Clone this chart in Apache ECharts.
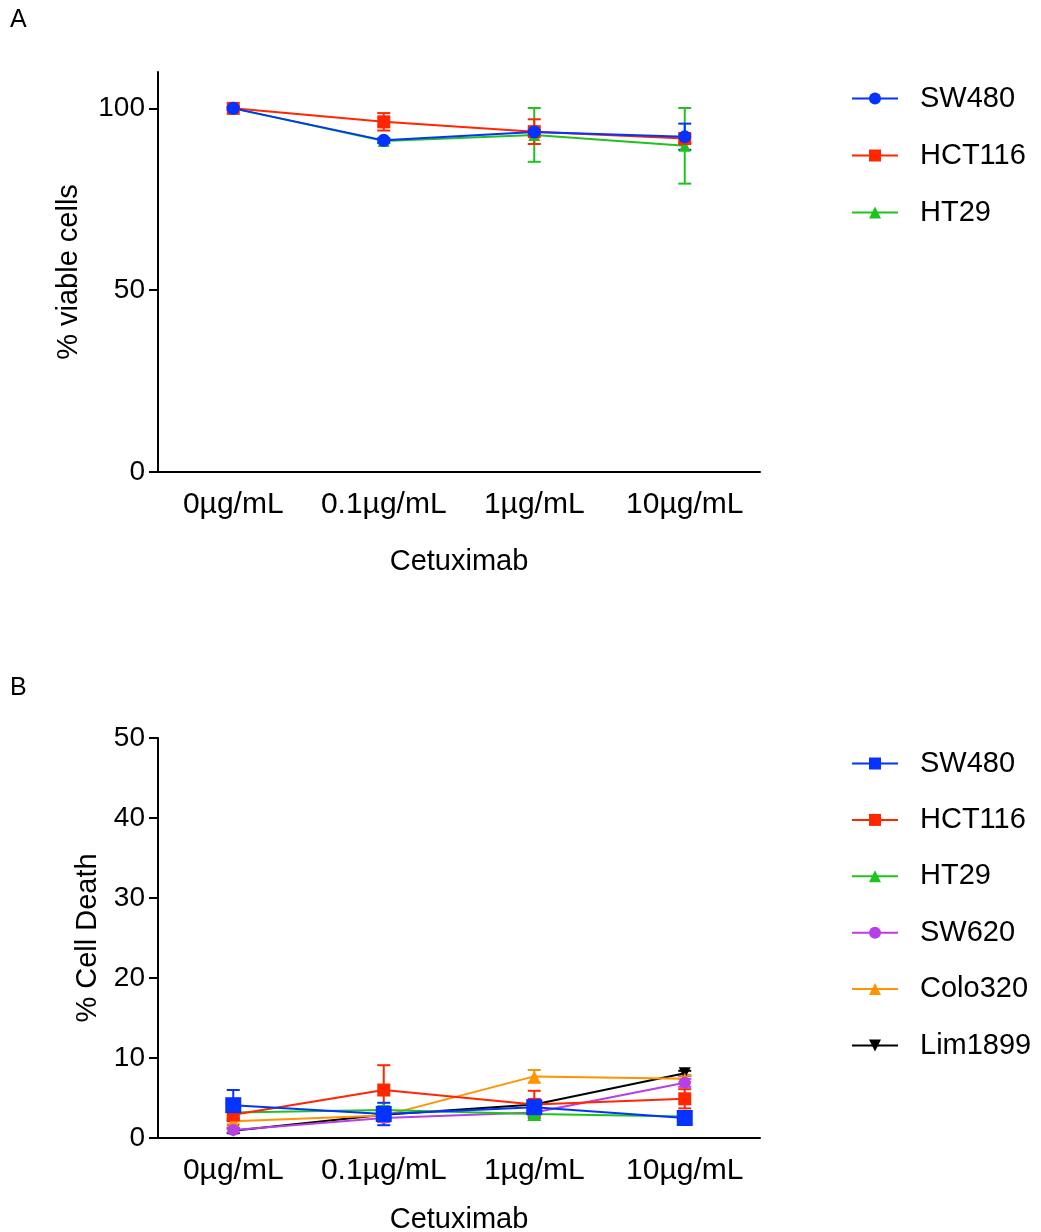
<!DOCTYPE html>
<html lang="en">
<head>
    <meta charset="UTF-8">
    <title>Cetuximab viability / cell death</title>
    <script src="https://cdn.jsdelivr.net/npm/echarts@6/dist/echarts.min.js"></script>
    <style>
        html, body, #chart {
            width: 1041px;
            height: 1232px;
            padding: 0;
            margin: 0;
            background: #fff;
        }
    </style>
</head>
<body>
<div id="chart"></div>
<script>
    // doses (x categories)
    var doses = ["0\u00b5g/mL", "0.1\u00b5g/mL", "1\u00b5g/mL", "10\u00b5g/mL"];

    // panel A: % viable cells (mean, error)
    var sw480A = [100, 91.2, 93.5, 92.2];
    var sw480AErr = [0.4, 0.6, 0.6, 3.6];
    var hct116A = [100, 96.3, 93.6, 91.7];
    var hct116AErr = [0.4, 2.4, 3.4, 1.2];
    var ht29A = [100, 91.0, 92.7, 89.7];
    var ht29AErr = [0.3, 0.6, 7.4, 10.4];

    // panel B: % cell death (mean, error)
    var sw480B = [4.1, 3.0, 3.85, 2.5];
    var sw480BErr = [1.9, 1.4, 0.6, 0.4];
    var hct116B = [2.9, 6.0, 4.2, 4.9];
    var hct116BErr = [0.8, 3.1, 1.7, 1.2];
    var ht29B = [3.2, 3.5, 3.0, 2.7];
    var ht29BErr = [0.3, 0.5, 0.3, 0.3];
    var sw620B = [1.0, 2.5, 3.2, 6.9];
    var sw620BErr = [0.3, 0.5, 0.4, 0.5];
    var colo320B = [2.1, 2.8, 7.7, 7.4];
    var colo320BErr = [0.4, 0.8, 0.8, 0.4];
    var lim1899B = [0.9, 2.9, 4.2, 8.1];
    var lim1899BErr = [0.3, 0.4, 0.4, 0.3];

    var FONT = "Liberation Sans";
    var BLUE = "#0433ff", RED = "#ff2600", GREEN = "#1ec31e",
        PURPLE = "#b73fe8", ORANGE = "#ff9300", BLACK = "#000000";

    function errorSeries(name, means, errs, color, idx) {
        return {
            type: "custom",
            name: name + " err",
            xAxisIndex: idx,
            yAxisIndex: idx,
            z: 1,
            silent: true,
            data: means.map(function (m, i) { return [i, m - errs[i], m + errs[i]]; }),
            renderItem: function (params, api) {
                var lo = api.coord([api.value(0), api.value(1)]);
                var hi = api.coord([api.value(0), api.value(2)]);
                var hw = 6.5;
                var st = { stroke: color, lineWidth: 2 };
                return {
                    type: "group",
                    children: [
                        { type: "line", shape: { x1: lo[0], y1: lo[1], x2: hi[0], y2: hi[1] }, style: st },
                        { type: "line", shape: { x1: hi[0] - hw, y1: hi[1], x2: hi[0] + hw, y2: hi[1] }, style: st },
                        { type: "line", shape: { x1: lo[0] - hw, y1: lo[1], x2: lo[0] + hw, y2: lo[1] }, style: st }
                    ]
                };
            }
        };
    }

    function lineSeries(name, means, color, symbol, size, idx, rotate) {
        return {
            type: "line",
            name: name,
            xAxisIndex: idx,
            yAxisIndex: idx,
            z: 3,
            data: means,
            symbol: symbol,
            symbolSize: size,
            symbolRotate: rotate || 0,
            showAllSymbol: true,
            color: color,
            lineStyle: { color: color, width: 2 },
            itemStyle: { color: color, borderWidth: 0 },
            animation: false
        };
    }

    function xAxis(idx) {
        return {
            type: "category",
            gridIndex: idx,
            data: doses,
            name: "Cetuximab",
            nameLocation: "middle",
            nameGap: idx === 0 ? 75 : 67,
            nameTextStyle: { fontFamily: FONT, fontSize: 29, color: "#000" },
            axisLine: { lineStyle: { color: "#000", width: 2 } },
            axisTick: { alignWithLabel: true, length: 9, lineStyle: { color: "#000", width: 2 } },
            axisLabel: { interval: 0, fontFamily: FONT, fontSize: 30, color: "#000", margin: 18 }
        };
    }

    function yAxis(idx, max, interval, ticks, name, gap) {
        return {
            type: "value",
            gridIndex: idx,
            min: 0,
            max: max,
            interval: interval,
            name: name,
            nameLocation: "middle",
            nameGap: gap,
            nameTextStyle: { fontFamily: FONT, fontSize: 29, color: "#000" },
            splitLine: { show: false },
            axisLine: { show: true, lineStyle: { color: "#000", width: 2 } },
            axisTick: { show: true, length: 9, customValues: ticks, lineStyle: { color: "#000", width: 2 } },
            axisLabel: { fontFamily: FONT, fontSize: 28, color: "#000", margin: 13, customValues: ticks }
        };
    }

    function legend(top, gap, names) {
        return {
            orient: "vertical",
            left: 851,
            top: top,
            padding: 0,
            itemWidth: 46,
            itemHeight: 15,
            itemGap: gap,
            data: names,
            selectedMode: false,
            textStyle: { fontFamily: FONT, fontSize: 29, color: "#000", padding: [0, 0, 0, 17] }
        };
    }

    var chart = echarts.init(document.getElementById("chart"));
    chart.setOption({
        animation: false,
        backgroundColor: "#fff",
        graphic: [
            { type: "text", left: 10, top: 8, style: { text: "A", font: "25px " + FONT, fill: "#000" } },
            { type: "text", left: 10, top: 676, style: { text: "B", font: "25px " + FONT, fill: "#000" } }
        ],
        grid: [
            { left: 158, top: 72, width: 602, height: 400, outerBoundsMode: "none", containLabel: false },
            { left: 158, top: 738, width: 602, height: 400, outerBoundsMode: "none", containLabel: false }
        ],
        xAxis: [xAxis(0), xAxis(1)],
        yAxis: [
            yAxis(0, 110, 50, [0, 50, 100], "% viable cells", 75),
            yAxis(1, 50, 10, [0, 10, 20, 30, 40, 50], "% Cell Death", 55)
        ],
        legend: [
            legend(84, 28, ["SW480", "HCT116", "HT29"]),
            legend(749, 27.4, ["SW480 ", "HCT116 ", "HT29 ", "SW620", "Colo320", "Lim1899"])
        ],
        series: [
            errorSeries("HT29", ht29A, ht29AErr, GREEN, 0),
            errorSeries("HCT116", hct116A, hct116AErr, RED, 0),
            errorSeries("SW480", sw480A, sw480AErr, BLUE, 0),
            lineSeries("HT29", ht29A, GREEN, "triangle", 12, 0),
            lineSeries("HCT116", hct116A, RED, "rect", 13, 0),
            lineSeries("SW480", sw480A, BLUE, "circle", 13, 0),

            errorSeries("Lim1899", lim1899B, lim1899BErr, BLACK, 1),
            errorSeries("Colo320", colo320B, colo320BErr, ORANGE, 1),
            errorSeries("SW620", sw620B, sw620BErr, PURPLE, 1),
            errorSeries("HT29 ", ht29B, ht29BErr, GREEN, 1),
            errorSeries("HCT116 ", hct116B, hct116BErr, RED, 1),
            errorSeries("SW480 ", sw480B, sw480BErr, BLUE, 1),
            lineSeries("Lim1899", lim1899B, BLACK, "triangle", 12, 1, 180),
            lineSeries("Colo320", colo320B, ORANGE, "triangle", 12, 1),
            lineSeries("SW620", sw620B, PURPLE, "circle", 12, 1),
            lineSeries("HT29 ", ht29B, GREEN, "triangle", 14, 1),
            lineSeries("HCT116 ", hct116B, RED, "rect", 13, 1),
            lineSeries("SW480 ", sw480B, BLUE, "rect", 16, 1)
        ]
    });
</script>
</body>
</html>
